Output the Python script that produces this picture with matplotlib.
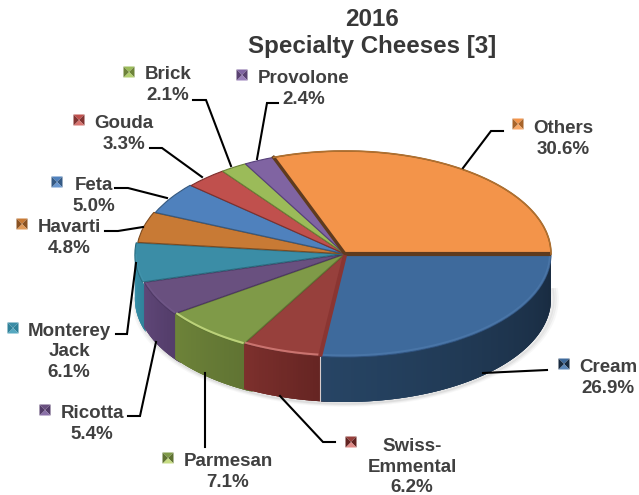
import numpy as np
import matplotlib
matplotlib.use("Agg")
import matplotlib.pyplot as plt
from matplotlib.patches import Polygon

plt.rcParams['font.family'] = ['Liberation Sans', 'DejaVu Sans']

# data, clockwise from 3 o'clock
cheeses = ["Cream", "Swiss-\nEmmental", "Parmesan", "Ricotta", "Monterey\nJack", "Havarti",
           "Feta", "Gouda", "Brick", "Provolone", "Others"]
shares = [26.9, 6.2, 7.1, 5.4, 6.1, 4.8, 5.0, 3.3, 2.1, 2.4, 30.6]

top_colors = ["#3e6a9c", "#97403c", "#7f9a48", "#69507f", "#3b8da6", "#c87a35",
              "#4f81bd", "#c0504d", "#9bbb59", "#8064a2", "#f3944a"]
wall_light = ["#274565", "#7d302d", "#6d8339", "#5f4778", "#3a93ad", "#a8642a",
              "#3f6a9c", "#9c3f3c", "#7f9a48", "#69507f", "#c87a35"]
wall_dark = ["#182a3f", "#622321", "#5f7232", "#523b68", "#2f8199", "#8a5222",
             "#355a85", "#833432", "#6d8339", "#5a4272", "#a8642a"]
edge_colors = ["#2f5380", "#6e2c2a", "#5f7632", "#4a3560", "#27697d", "#7d4a1e",
               "#36597f", "#7d2f2d", "#6a8037", "#56407a", "#5f3b1e"]
rim_colors = ["#5a86b8", "#e08a86", "#c6dc82", "#8a70a8", "#55a8c0", "#e09a58",
              "#6a98d0", "#d87470", "#b4d070", "#9a80ba", "#f8a868"]
rim_alpha = [0.4, 0.7, 0.85, 0.2, 0.2, 0, 0, 0, 0, 0, 0]
explode = [0, 0, 0.008, 0.012, 0.02, 0.012, 0.005, 0, 0, 0, 0]

# label layout in picture pixels
label_xy = [(608, 378), (412, 467), (228, 472), (92, 424), (69, 352), (69, 238),
            (94, 196), (124, 134), (168, 85), (304, 89), (563, 139)]
key_xy = [(564, 364), (351, 442), (168, 458), (45, 410), (13, 328), (22, 224),
          (57, 182), (79, 120), (129, 72), (242, 75), (518, 124)]
leaders = [
    [(483, 373), (547, 370)],
    [(280, 396), (323, 442), (335, 442)],
    [(205, 373), (205, 447)],
    [(156, 342), (140, 416), (128, 416)],
    [(136, 263), (127, 334), (116, 334)],
    [(143, 227), (118, 231), (105, 231)],
    [(167, 198), (128, 188), (115, 188)],
    [(202, 177), (162, 148), (150, 148)],
    [(231, 166), (206, 100), (193, 100)],
    [(257, 159), (267, 103), (278, 103)],
    [(463, 168), (491, 131), (503, 131)],
]

W, H = 639, 495
cx, cy = 345, 254
rx, ry = 206, 103
depth = 45 / ry


def blend(c1, c2, t):
    a, b = np.array(matplotlib.colors.to_rgb(c1)), np.array(matplotlib.colors.to_rgb(c2))
    return a + (b - a) * t


fig = plt.figure(figsize=(W / 100, H / 100), dpi=100)
ax = fig.add_axes([0, 0, 1, 1])
px = fig.add_axes([0, 0, 1, 1], zorder=5)
px.set_xlim(0, W)
px.set_ylim(H, 0)
px.axis("off")
px.patch.set_alpha(0)

total = sum(shares)
ends = np.cumsum(shares) / total * 360
starts = np.concatenate([[0], ends[:-1]])
mids = np.radians((starts + ends) / 2)
off_x = np.array(explode) * np.cos(mids)
off_y = -np.array(explode) * np.sin(mids)

# soft shadow under the front edge
t = np.radians(np.linspace(-5, 180, 200))
for k, a in zip([6, 4, 2], [0.05, 0.08, 0.12]):
    ax.plot(np.cos(t) * (1 + k / rx), -np.sin(t) * (1 + k / ry / 2) - depth, color="#707070",
            alpha=a, lw=2.5, zorder=1)

# side wall, clockwise angle so y is flipped
# go backwards so each wall hides the start of the one behind it
for i in reversed(range(len(shares))):
    a0, a1 = max(starts[i], 0), min(ends[i], 180)
    if a1 <= a0:
        continue
    if i > 0:
        a0 -= 3
    steps = max(int((a1 - a0) / 0.8), 2)
    grid = np.linspace(a0, a1, steps + 1)
    for j in range(steps):
        # left end of the wall is the lighter one
        f = (j + 0.5) / steps
        col = blend(wall_dark[i], wall_light[i], f)
        # stripes overlap the next one, otherwise seams show through
        th = np.radians(np.linspace(grid[j], min(grid[j] + 2.4, a1), 4))
        xs = np.cos(th) + off_x[i]
        ys = -np.sin(th) + off_y[i]
        verts = np.column_stack([np.r_[xs, xs[::-1]], np.r_[ys, ys[::-1] - depth]])
        ax.add_patch(Polygon(verts, closed=True, fc=col, ec="none", zorder=2))

# sliver between the cream and swiss walls
b = np.radians(ends[0])
ax.plot([np.cos(b)] * 2, [-np.sin(b), -np.sin(b) - depth], color="#d8cccc", lw=0.8, zorder=3)

# top face
wedges, _ = ax.pie(shares, colors=top_colors, startangle=0, counterclock=False, radius=1.0,
                   explode=explode, wedgeprops=dict(linewidth=0.8), normalize=True)
for w, e in zip(wedges, edge_colors):
    w.set_edgecolor(e)
    w.set_zorder(4)
ax.set_aspect("auto")
ax.set_xlim(-cx / rx, (W - cx) / rx)
ax.set_ylim((cy - H) / ry, cy / ry)
ax.axis("off")

# lit rim along the front of the top face
for i in range(len(shares)):
    a0, a1 = max(starts[i], 0), min(ends[i], 180)
    if a1 <= a0 or rim_alpha[i] == 0:
        continue
    th = np.radians(np.linspace(a0, a1, 60))
    ax.plot(np.cos(th) * 0.995 + off_x[i], -np.sin(th) * 0.985 + off_y[i], color=rim_colors[i],
            lw=1.5, alpha=rim_alpha[i], zorder=5, solid_capstyle="butt")

# thick brown seams of the others slice, red face of the swiss slice
a0 = np.radians(starts[-1])
ax.plot([0, np.cos(a0)], [0, -np.sin(a0)], color="#5f3b1e", lw=2.4, zorder=6)
ax.plot([0, 1], [0, 0], color="#5f3b1e", lw=3, zorder=6, solid_capstyle="butt")
ax.plot([0, np.cos(b)], [-0.01, -np.sin(b)], color="#8a3532", lw=3, zorder=6,
        solid_capstyle="butt")
th = np.radians(np.linspace(starts[-1], 360, 120))
ax.plot(np.cos(th), -np.sin(th), color="#b0702e", lw=1.2, zorder=6)

# title
txt = "#383838"
px.text(372, 19, "2016", ha="center", va="center", fontsize=17.4, fontweight="bold", color=txt)
px.text(372, 46, "Specialty Cheeses [3]", ha="center", va="center", fontsize=17.4,
        fontweight="bold", color=txt)

# labels with beveled keys
for i, name in enumerate(cheeses):
    px.text(label_xy[i][0], label_xy[i][1], f"{name}\n{shares[i]:.1f}%", ha="center", va="center",
            fontsize=13.5, fontweight="bold", color="#404040", linespacing=1.3)
    line = np.array(leaders[i])
    px.plot(line[:, 0], line[:, 1], color="black", lw=1.5, solid_joinstyle="miter")
    kx, ky = key_xy[i]
    s = 5.5
    m = (kx, ky)
    corners = [(kx - s, ky - s), (kx + s, ky - s), (kx + s, ky + s), (kx - s, ky + s)]
    shades = [top_colors[i], wall_dark[i], rim_colors[i], wall_dark[i]]
    for k in range(4):
        px.add_patch(Polygon([corners[k], corners[(k + 1) % 4], m], closed=True, fc=shades[k],
                             ec="none"))

fig.savefig("out.png", dpi=100)
